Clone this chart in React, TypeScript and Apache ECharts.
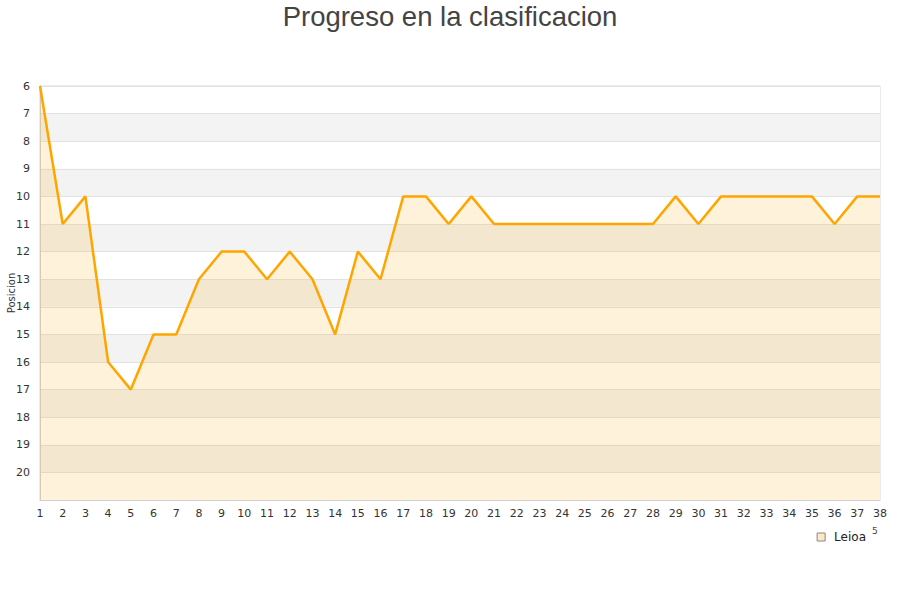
import React, { useEffect, useRef } from "react";
import * as echarts from "echarts";

const jornadas: string[] = Array.from({ length: 38 }, (_, i) => String(i + 1));
const teamName = "Leioa";
const posiciones: number[] = [
  6, 11, 10, 16, 17, 15, 15, 13, 12, 12,
  13, 12, 13, 15, 12, 13, 10, 10, 11, 10,
  11, 11, 11, 11, 11, 11, 11, 11, 10, 11,
  10, 10, 10, 10, 10, 11, 10, 10,
];
const titleText = "Progreso en la clasificacion";
const yAxisName = "Posicion";
const cornerMark = "5";

export default function App() {
  const ref = useRef<HTMLDivElement>(null);
  useEffect(() => {
    if (!ref.current) return;
    const chart = echarts.init(ref.current, undefined, { renderer: "svg" });
    const labelFont = "'DejaVu Sans', Verdana, sans-serif";
    chart.setOption({
      animation: false,
      backgroundColor: "#ffffff",
      title: {
        text: titleText,
        left: "center",
        top: -3,
        textStyle: {
          fontFamily: "'Liberation Sans', Arial, sans-serif",
          fontSize: 27.5,
          fontWeight: "normal",
          color: "#444444",
        },
      },
      grid: {
        left: 40,
        right: 20,
        top: 86,
        bottom: 100,
        containLabel: false,
        outerBoundsMode: "none",
        show: true,
        borderColor: "#d8d8d8",
        borderWidth: 1,
        backgroundColor: "transparent",
      },
      legend: {
        right: 29,
        top: 526,
        icon: "rect",
        itemWidth: 8,
        itemHeight: 8,
        itemGap: 6,
        textStyle: {
          fontFamily: labelFont,
          fontSize: 12,
          color: "#222",
          padding: [0, 0, 0, 4],
        },
        data: [
          {
            name: teamName,
            itemStyle: { color: "#fde9c6", borderColor: "#888", borderWidth: 1 },
          },
        ],
      },
      graphic: [
        {
          type: "text",
          left: 872,
          top: 526,
          style: {
            text: cornerMark,
            fontFamily: labelFont,
            fontSize: 9,
            fill: "#444",
          },
        },
        {
          type: "text",
          x: 11,
          y: 293,
          rotation: Math.PI / 2,
          style: {
            text: yAxisName,
            fontFamily: labelFont,
            fontSize: 10,
            fill: "#333",
            align: "center",
            verticalAlign: "middle",
          },
        },
      ],
      xAxis: {
        type: "category",
        data: jornadas,
        boundaryGap: false,
        axisTick: { show: false },
        axisLine: { lineStyle: { color: "#d0d0d0" } },
        axisLabel: {
          fontFamily: labelFont,
          fontSize: 11,
          color: "#333",
          margin: 8,
          interval: 0,
        },
        splitLine: { show: false },
      },
      yAxis: {
        type: "value",
        min: 6,
        max: 21,
        interval: 1,
        inverse: true,
        axisLine: { show: true, lineStyle: { color: "#d0d0d0" } },
        axisTick: { show: false },
        axisLabel: {
          fontFamily: labelFont,
          fontSize: 11,
          color: "#333",
          margin: 10,
          formatter: (v: number) => (v === 21 ? "" : String(v)),
        },
        splitLine: { show: true, lineStyle: { color: "#e2e2e2" } },
        splitArea: { show: true, areaStyle: { color: ["#ffffff", "#f3f3f3"] } },
      },
      series: [
        {
          name: teamName,
          type: "line",
          data: posiciones,
          symbol: "none",
          lineStyle: { color: "#ffa500", width: 2.5 },
          itemStyle: { color: "#ffa500" },
          areaStyle: { color: "rgba(255,160,0,0.2)", origin: "end" },
        },
      ],
    });
    return () => chart.dispose();
  }, []);
  return (
    <div
      ref={ref}
      style={{ position: "fixed", left: 0, top: 0, width: 900, height: 600 }}
    />
  );
}
